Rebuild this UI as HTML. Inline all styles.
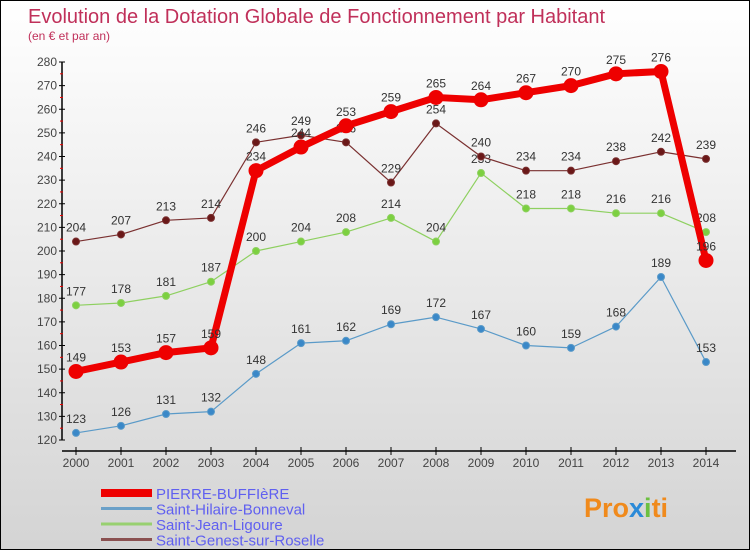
<!DOCTYPE html>
<html><head><meta charset="utf-8">
<style>
body{margin:0;}
#wrap{width:750px;height:550px;position:relative;box-sizing:border-box;border:1px solid #000;background:linear-gradient(#ffffff,#d4d4d4);overflow:hidden;font-family:"Liberation Sans",sans-serif;}
svg text{font-family:"Liberation Sans",sans-serif;}
</style></head>
<body>
<div id="wrap">
<svg id="chart" width="750" height="550">
<text x="27" y="22" font-size="20" fill="#c0305a">Evolution de la Dotation Globale de Fonctionnement par Habitant</text>
<text x="27" y="39" font-size="12" fill="#c0305a">(en € et par an)</text>
<g id="axes"></g>
<g id="series"></g>
<g id="legend"></g>
<text x="583" y="516" font-size="27" font-weight="bold" fill="#f08a1c">Pro<tspan fill="#2a8ad8">x</tspan><tspan fill="#6cc040">i</tspan>ti</text>
</svg>
</div>
<script>
const years=[2000,2001,2002,2003,2004,2005,2006,2007,2008,2009,2010,2011,2012,2013,2014];
const pierre=[149,153,157,159,234,244,253,259,265,264,267,270,275,276,196];
const hilaire=[123,126,131,132,148,161,162,169,172,167,160,159,168,189,153];
const jean=[177,178,181,187,200,204,208,214,204,233,218,218,216,216,208];
const genest=[204,207,213,214,246,249,246,229,254,240,234,234,238,242,239];
const yTicks=[120,130,140,150,160,170,180,190,200,210,220,230,240,250,260,270,280];
const seriesNames=["PIERRE-BUFFIèRE","Saint-Hilaire-Bonneval","Saint-Jean-Ligoure","Saint-Genest-sur-Roselle"];
const NS="http://www.w3.org/2000/svg";
function x(i){return 75+i*45;}
function y(v){return 439-(v-120)*(378/160);}
function mk(tag,attrs,parent){const e=document.createElementNS(NS,tag);for(const k in attrs)e.setAttribute(k,attrs[k]);parent.appendChild(e);return e;}
const axes=document.getElementById('axes');
let l=mk('line',{x1:61,y1:y(280),x2:61,y2:y(120),stroke:'#000','stroke-width':1.5},axes);


l=mk('line',{x1:61,y1:450,x2:735,y2:450,stroke:'#000','stroke-width':1.5},axes);


yTicks.forEach((v,i)=>{
  mk('line',{x1:58,y1:y(v),x2:64,y2:y(v),stroke:'#000'},axes);
  if(i<yTicks.length-1) mk('line',{x1:59,y1:y(v+5),x2:62,y2:y(v+5),stroke:'#e00'},axes);
  const t=mk('text',{x:56,y:y(v)+4,'font-size':12,fill:'#444','text-anchor':'end'},axes);
  t.textContent=v;
  
  
});
years.forEach((yr,i)=>{
  mk('line',{x1:x(i),y1:446,x2:x(i),y2:454,stroke:'#000'},axes);
  const t=mk('text',{x:x(i),y:466,'font-size':12,fill:'#444','text-anchor':'middle'},axes);
  t.textContent=yr;
  
  
});
const sg=document.getElementById('series');
function draw(vals,color,w,r,name,dot){
  const g=mk('g',{},sg);
  
  
  mk('polyline',{points:vals.map((v,i)=>x(i)+','+y(v)).join(' '),fill:'none',stroke:color,'stroke-width':w,'stroke-linejoin':'round'},g);
  vals.forEach((v,i)=>{
    const c=mk('circle',{cx:x(i),cy:y(v),r:r,fill:dot,stroke:color,'stroke-width':1},g);
    
    
    const t=mk('text',{x:x(i),y:y(v)-10,'font-size':12,fill:'#333','text-anchor':'middle'},g);
    t.textContent=v;
    
    
  });
}
draw(hilaire,'#5a9ac8',1.2,3.5,'series-saint-hilaire','#3a88c8');
draw(jean,'#8ed060',1.2,3.5,'series-saint-jean','#7cd040');
draw(genest,'#7a3030',1.2,3.5,'series-saint-genest','#6a1818');
draw(pierre,'#ee0000',7,7,'series-pierre-buffiere','#ee0000');
const lg=document.getElementById('legend');
const lc=['#ee0000','#6aa0c8','#98d070','#8a5050'],lw=[8,3,3,3];
seriesNames.forEach((n,i)=>{
  const yy=492+i*15.5;
  const g=mk('g',{},lg);
  
  
  mk('line',{x1:100,y1:yy,x2:151,y2:yy,stroke:lc[i],'stroke-width':lw[i]},g);
  const t=mk('text',{x:155,y:yy+6,'font-size':15,fill:'#6060f0'},g);
  t.textContent=n;
});
</script>
</body></html>
